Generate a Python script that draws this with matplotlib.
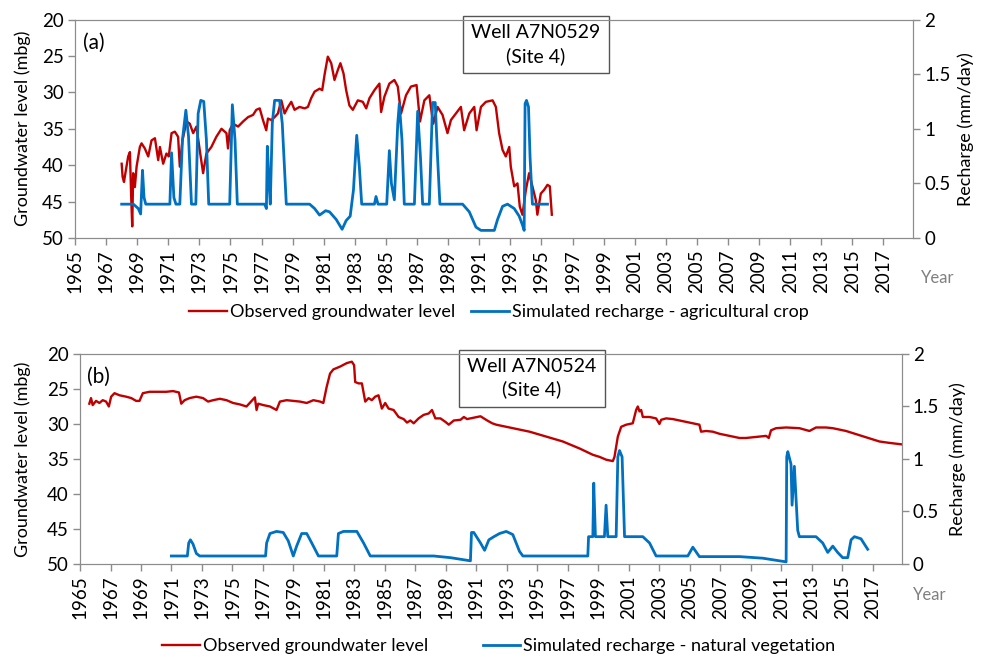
import numpy as np
import matplotlib
matplotlib.use('Agg')
import matplotlib.pyplot as plt

plt.rcParams['font.family'] = ['Lato', 'DejaVu Sans']

# ---- panel (a): well A7N0529, agricultural crop ----
gwl_a_year = [1968.00, 1968.06, 1968.15, 1968.27, 1968.42, 1968.53, 1968.62, 1968.68, 1968.74, 1968.85,
              1968.96, 1969.17, 1969.28, 1969.49, 1969.71, 1969.92, 1970.14, 1970.35, 1970.46, 1970.67,
              1970.88, 1971.03, 1971.21, 1971.42, 1971.63, 1971.74, 1971.91, 1972.17, 1972.38, 1972.60,
              1972.81, 1973.02, 1973.24, 1973.45, 1973.77, 1974.09, 1974.42, 1974.74, 1974.84, 1974.95,
              1975.16, 1975.49, 1975.81, 1976.13, 1976.45, 1976.66, 1976.88, 1977.09, 1977.30, 1977.41,
              1977.63, 1977.84, 1978.05, 1978.27, 1978.48, 1978.70, 1978.91, 1979.12, 1979.44, 1979.77,
              1979.98, 1980.19, 1980.41, 1980.73, 1980.90, 1981.05, 1981.26, 1981.48, 1981.69, 1981.91,
              1982.07, 1982.27, 1982.44, 1982.65, 1982.87, 1983.19, 1983.51, 1983.73, 1983.94, 1984.26,
              1984.58, 1984.69, 1984.90, 1985.22, 1985.54, 1985.76, 1985.97, 1986.29, 1986.61, 1986.97,
              1987.19, 1987.47, 1987.79, 1988.04, 1988.32, 1988.64, 1988.96, 1989.18, 1989.50, 1989.82,
              1990.03, 1990.36, 1990.68, 1990.83, 1991.11, 1991.43, 1991.86, 1992.07, 1992.28, 1992.50,
              1992.71, 1992.93, 1993.03, 1993.25, 1993.46, 1993.61, 1993.78, 1994.00, 1994.21, 1994.42,
              1994.64, 1994.74, 1994.96, 1995.17, 1995.39, 1995.54, 1995.67]
gwl_a = [39.8, 41.6, 42.3, 40.7, 38.8, 38.2, 44.8, 48.4, 41.1, 43.0,
         40.2, 37.5, 37.0, 37.7, 38.8, 36.6, 36.3, 39.3, 37.5, 39.8,
         38.4, 38.8, 35.6, 35.4, 36.1, 40.2, 36.6, 34.0, 34.3, 35.6,
         34.7, 37.9, 41.1, 38.4, 37.5, 36.1, 35.0, 35.6, 37.7, 35.2,
         34.3, 34.7, 34.0, 33.4, 33.1, 32.4, 32.2, 33.8, 35.2, 33.6,
         33.8, 33.4, 32.9, 31.1, 32.9, 32.0, 31.3, 32.4, 32.0, 32.2,
         32.0, 30.8, 29.9, 29.5, 29.7, 27.6, 25.1, 26.0, 28.3, 26.9,
         26.0, 27.4, 29.7, 31.8, 32.4, 31.1, 31.3, 32.2, 30.8, 29.7,
         28.8, 32.7, 30.6, 28.8, 28.3, 29.2, 32.9, 30.4, 29.2, 29.0,
         34.0, 31.1, 30.4, 34.3, 32.0, 33.1, 35.6, 33.8, 32.9, 32.0,
         35.2, 32.9, 32.0, 35.2, 32.0, 31.3, 31.1, 32.0, 35.6, 37.9,
         38.8, 37.5, 40.2, 42.9, 42.5, 45.7, 46.8, 43.4, 41.1, 42.9,
         44.8, 46.8, 43.9, 43.4, 42.7, 42.9, 46.8]

rch_a_year = [1968.00, 1968.75, 1969.07, 1969.22, 1969.34, 1969.44, 1969.55, 1971.10, 1971.21, 1971.36,
              1971.49, 1971.74, 1971.91, 1972.13, 1972.30, 1972.49, 1972.77, 1972.92, 1973.09, 1973.28,
              1973.45, 1973.60, 1974.95, 1975.12, 1975.29, 1975.44, 1977.20, 1977.31, 1977.37, 1977.48,
              1977.56, 1977.69, 1977.84, 1978.16, 1978.33, 1978.59, 1980.09, 1980.41, 1980.73, 1981.12,
              1981.37, 1981.80, 1982.18, 1982.44, 1982.70, 1982.91, 1983.12, 1983.29, 1983.44, 1984.26,
              1984.36, 1984.49, 1985.05, 1985.22, 1985.35, 1985.54, 1985.76, 1985.86, 1986.03, 1986.18,
              1986.83, 1987.04, 1987.22, 1987.36, 1987.79, 1988.00, 1988.17, 1988.32, 1988.47, 1989.93,
              1990.36, 1990.79, 1991.11, 1991.97, 1992.18, 1992.50, 1992.82, 1993.25, 1993.57, 1993.78,
              1993.89, 1993.95, 1994.04, 1994.17, 1994.27, 1994.42, 1995.39]
rch_a = [0.31, 0.31, 0.27, 0.22, 0.62, 0.37, 0.31, 0.31, 0.78, 0.37,
         0.31, 0.31, 0.90, 1.17, 0.93, 0.31, 0.31, 1.14, 1.26, 1.25,
         0.90, 0.31, 0.31, 1.22, 0.90, 0.31, 0.31, 0.27, 0.84, 0.50,
         0.31, 1.05, 1.26, 1.26, 1.05, 0.31, 0.31, 0.27, 0.21, 0.25,
         0.24, 0.17, 0.08, 0.16, 0.20, 0.44, 0.94, 0.65, 0.31, 0.31,
         0.38, 0.31, 0.31, 0.80, 0.50, 0.35, 1.05, 1.23, 0.90, 0.31,
         0.31, 1.16, 0.74, 0.31, 0.31, 1.24, 1.24, 0.74, 0.31, 0.31,
         0.24, 0.10, 0.07, 0.07, 0.17, 0.29, 0.31, 0.27, 0.20, 0.12,
         0.07, 1.23, 1.26, 1.20, 0.74, 0.31, 0.31]

# ---- panel (b): well A7N0524, natural vegetation ----
gwl_b_year = [1965.61, 1965.72, 1965.83, 1966.05, 1966.27, 1966.49, 1966.71, 1966.89, 1967.04, 1967.26,
              1967.59, 1968.03, 1968.36, 1968.68, 1968.90, 1969.12, 1969.56, 1970.22, 1970.66, 1971.10,
              1971.49, 1971.64, 1971.86, 1972.19, 1972.63, 1973.07, 1973.40, 1973.73, 1974.17, 1974.61,
              1975.04, 1975.48, 1975.92, 1976.47, 1976.58, 1976.69, 1977.02, 1977.46, 1977.89, 1978.11,
              1978.55, 1978.99, 1979.43, 1979.87, 1980.31, 1980.75, 1980.96, 1981.18, 1981.40, 1981.62,
              1982.06, 1982.50, 1982.83, 1982.98, 1983.05, 1983.27, 1983.49, 1983.71, 1983.93, 1984.14,
              1984.36, 1984.58, 1984.80, 1985.02, 1985.24, 1985.57, 1985.90, 1986.23, 1986.45, 1986.67,
              1986.89, 1987.21, 1987.54, 1987.87, 1988.09, 1988.31, 1988.64, 1988.97, 1989.19, 1989.52,
              1989.96, 1990.18, 1990.39, 1990.83, 1991.27, 1991.71, 1992.04, 1992.30, 1993.39, 1994.49,
              1995.58, 1996.67, 1997.77, 1998.64, 1999.08, 1999.51, 1999.95, 2000.06, 2000.28, 2000.50,
              2000.83, 2001.26, 2001.48, 2001.59, 2001.70, 2001.81, 2001.92, 2002.36, 2002.79, 2003.01,
              2003.12, 2003.45, 2003.89, 2004.32, 2004.76, 2005.20, 2005.63, 2005.74, 2006.07, 2006.51,
              2006.95, 2007.38, 2007.82, 2008.26, 2008.69, 2009.13, 2009.57, 2010.01, 2010.18, 2010.33,
              2010.66, 2011.32, 2012.19, 2012.85, 2013.28, 2013.94, 2014.38, 2014.81, 2015.25, 2016.12,
              2017.00, 2017.44, 2018.09, 2018.86]
gwl_b = [27.1, 26.3, 27.3, 26.7, 27.0, 26.6, 26.8, 27.5, 26.1, 25.6,
         25.9, 26.1, 26.3, 26.7, 26.7, 25.6, 25.4, 25.4, 25.4, 25.3,
         25.5, 27.1, 26.6, 26.3, 26.1, 26.3, 26.8, 26.6, 26.4, 26.6,
         27.0, 27.2, 27.5, 26.2, 28.0, 27.1, 27.3, 27.5, 28.0, 26.8,
         26.6, 26.7, 26.8, 27.0, 26.6, 26.8, 27.0, 24.7, 22.8, 22.2,
         21.8, 21.3, 21.1, 21.6, 24.0, 24.2, 24.2, 26.8, 26.3, 26.6,
         26.1, 25.9, 27.8, 27.0, 27.8, 28.0, 29.0, 29.3, 29.8, 29.5,
         29.9, 29.2, 28.7, 28.5, 28.0, 29.2, 29.2, 29.7, 30.1, 29.5,
         29.4, 29.0, 29.3, 29.1, 28.9, 29.5, 29.9, 30.1, 30.6, 31.1,
         31.8, 32.5, 33.5, 34.4, 34.7, 35.1, 35.3, 34.7, 31.8, 30.4,
         30.1, 29.9, 28.0, 27.5, 28.2, 28.0, 29.0, 29.0, 29.2, 30.0,
         29.4, 29.2, 29.3, 29.5, 29.7, 29.9, 30.1, 31.1, 31.0, 31.1,
         31.4, 31.6, 31.8, 32.0, 32.0, 31.9, 31.8, 31.7, 32.0, 30.9,
         30.6, 30.5, 30.6, 31.0, 30.5, 30.5, 30.6, 30.8, 31.0, 31.6,
         32.2, 32.5, 32.7, 32.9]

rch_b_year = [1970.99, 1972.04, 1972.13, 1972.24, 1972.41, 1972.63, 1972.85, 1977.17, 1977.24, 1977.46,
              1977.89, 1978.33, 1978.66, 1978.99, 1979.21, 1979.54, 1979.87, 1980.20, 1980.64, 1981.84,
              1981.95, 1982.28, 1983.16, 1983.60, 1984.04, 1988.20, 1989.30, 1990.61, 1990.68, 1990.83,
              1991.27, 1991.54, 1991.82, 1992.15, 1992.52, 1992.96, 1993.39, 1993.83, 1994.05, 1998.31,
              1998.36, 1998.64, 1998.70, 1998.81, 1999.40, 1999.51, 1999.62, 2000.17, 2000.28, 2000.39,
              2000.56, 2000.72, 2001.92, 2002.36, 2002.79, 2004.87, 2005.20, 2005.63, 2008.26, 2009.79,
              2011.32, 2011.36, 2011.43, 2011.64, 2011.71, 2011.86, 2012.08, 2012.19, 2013.28, 2013.72,
              2014.05, 2014.38, 2014.70, 2015.03, 2015.36, 2015.58, 2015.80, 2016.23, 2016.67]
rch_b = [0.076, 0.076, 0.20, 0.23, 0.19, 0.10, 0.076, 0.076, 0.20, 0.29,
         0.31, 0.30, 0.22, 0.076, 0.17, 0.29, 0.29, 0.20, 0.076, 0.076,
         0.29, 0.31, 0.31, 0.20, 0.076, 0.076, 0.06, 0.03, 0.30, 0.30,
         0.20, 0.13, 0.23, 0.26, 0.29, 0.31, 0.28, 0.12, 0.076, 0.076,
         0.26, 0.26, 0.77, 0.26, 0.26, 0.56, 0.26, 0.26, 1.02, 1.08,
         1.02, 0.26, 0.26, 0.20, 0.076, 0.076, 0.16, 0.07, 0.07, 0.055,
         0.02, 1.02, 1.07, 0.95, 0.56, 0.93, 0.32, 0.26, 0.26, 0.20,
         0.11, 0.17, 0.11, 0.06, 0.06, 0.23, 0.26, 0.24, 0.14]

year_ticks = list(range(1965, 2019, 2))
rch_ticks = [0, 0.5, 1, 1.5, 2]
rch_tick_labels = ['0', '0.5', '1', '1.5', '2']

red = '#C00000'
blue = '#0070C0'
grey = '#8c8c8c'

fig = plt.figure(figsize=(9.82, 6.57), dpi=100)


def panel(rect, gx, gy, rx, ry, tag, well, rch_label, leg_y, leg_gap, year_xy, rlab_x):
    ax = fig.add_axes(rect)
    ax.plot(gx, gy, color=red, lw=1.7)
    ax.set_xlim(1965, 2018.9)
    ax.set_ylim(50, 20)
    ax.set_yticks([20, 25, 30, 35, 40, 45, 50])
    ax.set_xticks(year_ticks)
    ax.set_xticklabels([str(y) for y in year_ticks], rotation=90)
    ax.tick_params(labelsize=13.5, color=grey, length=5, width=1, pad=3)
    for s in ax.spines.values():
        s.set_color(grey)
    ax.text(0.009, 0.94, tag, transform=ax.transAxes, fontsize=15, va='top')
    # left axis title as figure text so it stays inside the canvas
    mid = rect[1] + rect[3] / 2
    fig.text(23 / 982, mid, 'Groundwater level (mbg)', rotation=90, fontsize=13,
             ha='center', va='center')
    ax2 = ax.twinx()
    ax2.plot(rx, ry, color=blue, lw=2)
    ax2.set_ylim(0, 2)
    ax2.set_yticks(rch_ticks)
    ax2.set_yticklabels(rch_tick_labels)
    ax2.tick_params(labelsize=13.5, color=grey, length=5, width=1, pad=3)
    for s in ax2.spines.values():
        s.set_color(grey)
    fig.text(rlab_x, mid, 'Recharge (mm/day)', rotation=90, fontsize=13,
             ha='center', va='center')
    ax.text(0.55, 0.885, well + '\n(Site 4)', transform=ax.transAxes, fontsize=14,
            ha='center', va='center', linespacing=1.4,
            bbox=dict(boxstyle='square,pad=0.42', fc='white', ec='#555555', lw=1))
    fig.text(year_xy[0], year_xy[1], 'Year', color='#808080', fontsize=12, ha='center', va='center')
    h1, = ax.plot([], [], color=red, lw=1.7)
    h2, = ax.plot([], [], color=blue, lw=2)
    fig.legend([h1, h2], ['Observed groundwater level', rch_label], loc='center',
               bbox_to_anchor=(0.508, leg_y), ncol=2, frameon=False, fontsize=13,
               handlelength=2.1, handletextpad=0.15, columnspacing=leg_gap)
    return ax, ax2


panel([0.0764, 0.6377, 0.8533, 0.3326], gwl_a_year, gwl_a, rch_a_year, rch_a, '(a)',
      'Well A7N0529', 'Simulated recharge - agricultural crop', 1 - 312 / 657, 0.9,
      (938 / 982, 1 - 278 / 657), 966 / 982)
panel([0.0815, 0.1416, 0.8367, 0.3196], gwl_b_year, gwl_b, rch_b_year, rch_b, '(b)',
      'Well A7N0524', 'Simulated recharge - natural vegetation', 1 - 646 / 657, 3.0,
      (930 / 982, 1 - 595 / 657), 958 / 982)

fig.savefig('out.png', dpi=100)
